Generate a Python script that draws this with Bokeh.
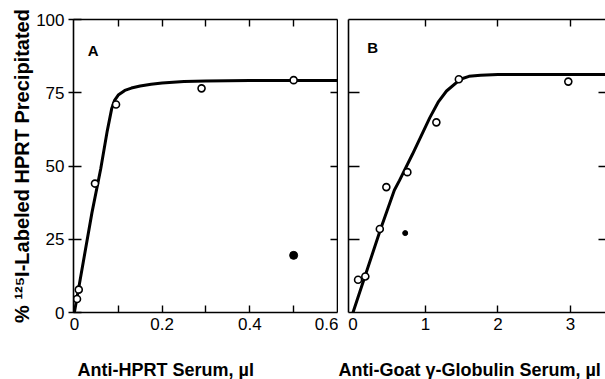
from bokeh.plotting import figure
from bokeh.models import Range1d, LinearAxis, FixedTicker, Label, Title
from bokeh.layouts import row
from bokeh.embed import file_html
from bokeh.resources import INLINE

# ---------------- data ----------------
# Panel A: Anti-HPRT serum (µl) vs % precipitated
a_x = [0.006, 0.01, 0.047, 0.095, 0.29, 0.5]
a_y = [4.6, 7.8, 44, 71, 76.5, 79.3]
a_fill_x = [0.5]
a_fill_y = [19.5]
a_curve_x = [0, 0.02, 0.04, 0.06, 0.075, 0.085, 0.092, 0.1, 0.115, 0.13, 0.15, 0.175, 0.2, 0.25, 0.3, 0.4, 0.6]
a_curve_y = [0, 17, 34, 49, 62, 69.5, 72.5, 74.2, 75.8, 76.6, 77.3, 77.9, 78.3, 78.8, 79, 79.2, 79.2]

# Panel B: Anti-goat gamma-globulin serum (µl)
b_x = [0.07, 0.17, 0.37, 0.46, 0.75, 1.15, 1.46, 2.97]
b_y = [11.2, 12.3, 28.5, 42.8, 47.9, 64.9, 79.6, 78.8]
b_fill_x = [0.72]
b_fill_y = [27.1]
b_curve_x = [0, 0.38, 0.57, 0.64, 0.82, 1.06, 1.18, 1.29, 1.48, 1.6, 1.76, 2.0, 3.6]
b_curve_y = [0, 28.4, 41.7, 45, 54, 66.5, 72, 75.6, 79.6, 80.6, 81, 81.2, 81.2]

y_ticks = [0, 25, 50, 75, 100]
y_inner = [25, 50, 75]
a_ticks = [0, 0.2, 0.4, 0.6]
a_minor = [0.1, 0.2, 0.3, 0.4, 0.5]
b_ticks = [0, 1, 2, 3]
b_minor = [1, 2, 3]

FONT = "Liberation Sans"
TICK_SIZE = "17px"


def base_fig(width, xr, left, right):
    p = figure(width=width, height=379, x_range=xr, y_range=Range1d(0, 100),
               output_backend="svg", toolbar_location=None,
               min_border_left=left, min_border_right=right,
               min_border_top=19, min_border_bottom=66)
    p.xgrid.grid_line_color = None
    p.ygrid.grid_line_color = None
    p.outline_line_color = None
    p.background_fill_color = "white"
    p.border_fill_color = "white"
    return p


def style(ax, line=True, labels=True, major_in=0, major_out=0, minor_in=0, minor_out=0):
    ax.axis_line_color = "black" if line else None
    ax.axis_line_width = 1.6
    ax.major_tick_line_color = "black"
    ax.major_tick_line_width = 1.4
    ax.minor_tick_line_color = "black"
    ax.minor_tick_line_width = 1.4
    ax.major_tick_in = major_in
    ax.major_tick_out = major_out
    ax.minor_tick_in = minor_in
    ax.minor_tick_out = minor_out
    ax.major_label_text_font = FONT
    ax.major_label_text_color = "black"
    if labels:
        ax.major_label_text_font_size = TICK_SIZE
    else:
        ax.major_label_text_font_size = "0px"
        ax.major_label_standoff = 0


def add_x_title(p, text, offset):
    spacer = Title(text=" ", text_font_size="1px", standoff=22)
    p.add_layout(spacer, "below")
    t = Title(text=text, align="left", vertical_align="bottom", offset=offset, standoff=0,
              text_font=FONT, text_font_size="18px", text_font_style="bold",
              text_color="black")
    p.add_layout(t, "below")


# ---------------- Panel A ----------------
pA = base_fig(338, Range1d(-0.002, 0.6), 73, 1)

pA.line(a_curve_x, a_curve_y, line_color="black", line_width=3)
pA.scatter(a_x, a_y, size=7, fill_color="white", line_color="black", line_width=1.6)
pA.scatter(a_fill_x, a_fill_y, size=8, fill_color="black", line_color="black")

bx = pA.xaxis[0]
bx.ticker = FixedTicker(ticks=a_ticks, minor_ticks=a_minor)
bx.major_label_overrides = {0: "0", 0.2: "0.2", 0.4: "0.4", 0.6: "0.6"}
style(bx, minor_in=7)
bx.major_label_standoff = 5

ly = pA.yaxis[0]
ly.ticker = FixedTicker(ticks=y_ticks)
style(ly, major_in=8, major_out=5)
ly.major_label_standoff = 4
ly.axis_label = "% \u00b9\u00b2\u2075I-Labeled HPRT Precipitated"
ly.axis_label_text_font = FONT
ly.axis_label_text_font_size = "20px"
ly.axis_label_text_font_style = "bold"
ly.axis_label_text_color = "black"
ly.axis_label_standoff = 0

top = LinearAxis(ticker=FixedTicker(ticks=a_minor))
style(top, labels=False, major_in=7)
pA.add_layout(top, "above")

rgt = LinearAxis(ticker=FixedTicker(ticks=y_inner))
style(rgt, labels=False, major_in=7)
pA.add_layout(rgt, "right")

pA.add_layout(Label(x=0.043, y=89.5, text="A", text_font=FONT, text_font_size="15px",
                    text_font_style="bold", text_color="black",
                    text_align="center", text_baseline="middle"))
add_x_title(pA, "Anti-HPRT Serum, \u00b5l", 4)

# ---------------- Panel B ----------------
pB = base_fig(267, Range1d(-0.062, 3.483), 10, 0)

pB.line(b_curve_x, b_curve_y, line_color="black", line_width=3)
pB.scatter(b_x, b_y, size=7, fill_color="white", line_color="black", line_width=1.6)
pB.scatter(b_fill_x, b_fill_y, size=5, fill_color="black", line_color="black")

bxb = pB.xaxis[0]
bxb.ticker = FixedTicker(ticks=b_ticks, minor_ticks=b_minor)
style(bxb, minor_in=7)
bxb.major_label_standoff = 5

lyb = pB.yaxis[0]
lyb.ticker = FixedTicker(ticks=y_inner)
style(lyb, labels=False, major_in=11)

topb = LinearAxis(ticker=FixedTicker(ticks=b_minor))
style(topb, labels=False, major_in=7)
pB.add_layout(topb, "above")

rgtb = LinearAxis(ticker=FixedTicker(ticks=y_inner))
style(rgtb, line=False, labels=False, major_in=7)
pB.add_layout(rgtb, "right")

pB.add_layout(Label(x=0.27, y=90.5, text="B", text_font=FONT, text_font_size="15px",
                    text_font_style="bold", text_color="black",
                    text_align="center", text_baseline="middle"))
add_x_title(pB, "Anti-Goat \u03b3-Globulin Serum, \u00b5l", -10)

layout = row(pA, pB)
open("out.html", "w").write(file_html(layout, INLINE))
